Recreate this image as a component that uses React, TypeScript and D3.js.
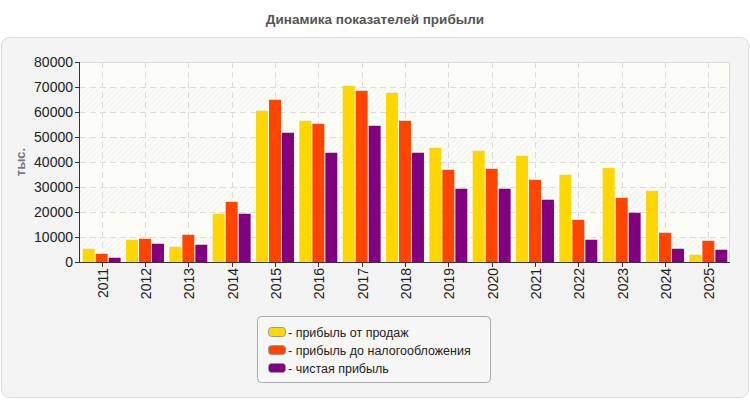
import React from "react";
import * as d3 from "d3";

const years = ["2011","2012","2013","2014","2015","2016","2017","2018","2019","2020","2021","2022","2023","2024","2025"];
const salesProfit = [5300, 8900, 6100, 19300, 60500, 56500, 70500, 67700, 45700, 44500, 42500, 34900, 37700, 28500, 2900];
const pretaxProfit = [3300, 9300, 10900, 24100, 64900, 55300, 68500, 56500, 36900, 37300, 32900, 16900, 25700, 11700, 8500];
const netProfit = [1700, 7300, 6900, 19300, 51700, 43700, 54500, 43700, 29300, 29300, 24900, 8900, 19700, 5300, 4900];
const yTicks = [0, 10000, 20000, 30000, 40000, 50000, 60000, 70000, 80000];
const seriesNames = ["- прибыль от продаж", "- прибыль до налогообложения", "- чистая прибыль"];
const seriesColors = ["#FFD700", "#FF4500", "#800080"];

const W = 750;
const H = 400;
const left = 80, right = 730, top = 62, bottom = 262;

export default function App() {
  const x = d3.scaleBand<string>().domain(years).range([left, right]).paddingInner(0).paddingOuter(0);
  const y = d3.scaleLinear().domain([0, 80000]).range([bottom, top]);
  const series = [salesProfit, pretaxProfit, netProfit];
  const inner = d3.scaleBand<number>().domain([0, 1, 2]).range([2.7, x.bandwidth() - 2.7]).paddingInner(0.08);

  return (
    <svg width={W} height={H} style={{ position: "absolute", left: 0, top: 0, fontFamily: "'Liberation Sans', Arial, sans-serif" }}>
      <defs>
        <pattern id="hatch" patternUnits="userSpaceOnUse" width="4" height="4" patternTransform="rotate(45)">
          <rect width="4" height="4" fill="#fbfbf7" />
          <line x1="0" y1="0" x2="0" y2="4" stroke="#f0f0ee" strokeWidth="1.5" />
        </pattern>
      </defs>
      <rect x={0} y={0} width={W} height={H} fill="#ffffff" />
      <text x={375} y={24} textAnchor="middle" fontSize={13.5} fontWeight="bold" fill="#555">
        Динамика показателей прибыли
      </text>
      <rect x={1.5} y={37.5} width={747} height={360} rx={8} fill="#f4f4f4" stroke="#dddddd" />

      {/* plot background bands */}
      <rect x={left} y={top} width={right - left} height={bottom - top} fill="#fdfdf7" />
      {yTicks.slice(0, -1).map((t, i) =>
        i % 2 === 0 ? (
          <rect key={"band" + t} x={left} y={y(t + 10000)} width={right - left} height={y(t) - y(t + 10000)} fill="url(#hatch)" />
        ) : null
      )}
      <line x1={left} x2={right} y1={top + 0.5} y2={top + 0.5} stroke="#dcdcdc" />
      <line x1={right - 0.5} x2={right - 0.5} y1={top} y2={bottom} stroke="#dcdcdc" />

      {/* grid */}
      {yTicks.slice(1, -1).map((t) => (
        <line key={"gy" + t} x1={left} x2={right} y1={Math.round(y(t)) + 0.5} y2={Math.round(y(t)) + 0.5} stroke="#dddddd" strokeDasharray="6,4" />
      ))}
      {years.map((yr) => {
        const cx = Math.round((x(yr) as number) + x.bandwidth() / 2) + 0.5;
        return <line key={"gx" + yr} x1={cx} x2={cx} y1={top} y2={bottom} stroke="#dddddd" strokeDasharray="6,4" />;
      })}

      {/* bars */}
      {years.map((yr, i) => (
        <g key={"g" + yr} transform={`translate(${x(yr)},0)`}>
          {series.map((s, k) => (
            <rect key={k} x={inner(k)} y={y(s[i])} width={inner.bandwidth()} height={bottom - y(s[i])} fill={seriesColors[k]} />
          ))}
        </g>
      ))}

      {/* axes */}
      <line x1={left - 0.5} x2={left - 0.5} y1={top} y2={bottom} stroke="#333" />
      <line x1={left} x2={right} y1={bottom + 0.5} y2={bottom + 0.5} stroke="#333" />
      {yTicks.map((t) => (
        <g key={"yt" + t}>
          <line x1={left - 5} x2={left} y1={Math.round(y(t)) + 0.5} y2={Math.round(y(t)) + 0.5} stroke="#333" />
          <text x={left - 7} y={y(t) + 5} textAnchor="end" fontSize={14} fill="#222">
            {t}
          </text>
        </g>
      ))}
      {years.map((yr) => {
        const cx = Math.round((x(yr) as number) + x.bandwidth() / 2) + 0.5;
        return (
          <g key={"xt" + yr}>
            <line x1={cx} x2={cx} y1={bottom} y2={bottom + 5} stroke="#333" />
            <text transform={`translate(${cx + 5},${bottom + 6}) rotate(-90)`} textAnchor="end" fontSize={14} fill="#222">
              {yr}
            </text>
          </g>
        );
      })}
      <text transform={`translate(25,${(top + bottom) / 2}) rotate(-90)`} textAnchor="middle" fontSize={13} fontWeight="bold" fill="#777">
        тыс.
      </text>

      {/* legend */}
      <rect x={257.5} y={316.5} width={233} height={66} rx={4} fill="#f7f7f7" stroke="#aaaaaa" />
      {seriesNames.map((n, k) => (
        <g key={"lg" + k} transform={`translate(268,${327 + k * 18})`}>
          <rect x={0.5} y={0.5} width={17} height={9} rx={3} fill={seriesColors[k]} stroke="#999" />
          <text x={20} y={9.5} fontSize={12.5} fill="#222">
            {n}
          </text>
        </g>
      ))}
    </svg>
  );
}
